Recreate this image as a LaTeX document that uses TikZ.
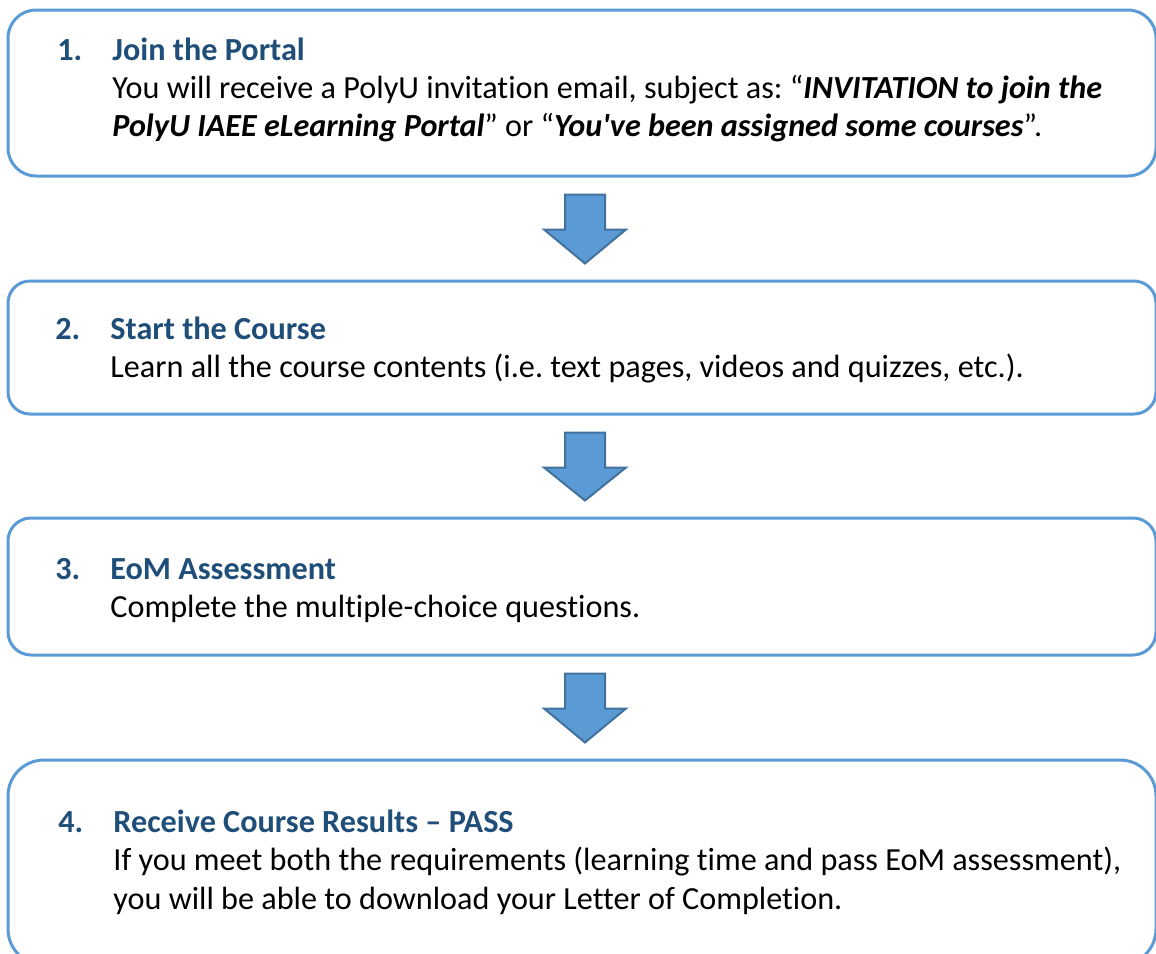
\documentclass[tikz,border=0pt]{standalone}
\usepackage{fontspec}
\setmainfont{Carlito}[Ligatures={TeX,NoCommon}]
\usepackage{tikz}
\usetikzlibrary{calc}
\definecolor{boxblue}{HTML}{5B9BD5}
\definecolor{arrowline}{HTML}{41719C}
\definecolor{headblue}{HTML}{1F4E79}
\tikzset{stepbox/.style={draw=boxblue, line width=1.5pt, minimum width=574pt, inner sep=0pt}}
\tikzset{steptext/.style={anchor=base west, inner sep=0pt, font=\fontsize{16.1}{19.25}\selectfont}}
\tikzset{flowarrow/.style={draw=arrowline, fill=boxblue, line width=1pt, line join=miter}}
\newcommand{\stephead}[2]{\makebox[27.5pt][l]{\textbf{\color{headblue}#1}} & \textbf{\color{headblue}#2}}
\newcommand{\emtext}[1]{\textbf{\textit{#1}}}
\newcommand{\flowarrow}[2]{%
  \draw[flowarrow] ($(#1.south)+(-17,17)$) -- ($(#1.south)+(23,17)$)
    -- ($(#1.south)+(23,52)$) -- ($(#1.south)+(44,52)$)
    -- ($(#2.north)+(3,-16)$)
    -- ($(#1.south)+(-38,52)$) -- ($(#1.south)+(-17,52)$) -- cycle;}
\frenchspacing

\begin{document}
\begin{tikzpicture}[x=0.5pt,y=-0.5pt]
    \useasboundingbox (0,0) rectangle (1156,953);

    \node[stepbox, rounded corners=14pt, minimum height=83pt] (join) at (582,93) {};
    \node[stepbox, rounded corners=11pt, minimum height=66.5pt] (start) at (582,347.5) {};
    \node[stepbox, rounded corners=11.5pt, minimum height=68.5pt] (eom) at (582,586.5) {};
    \node[stepbox, rounded corners=18pt, minimum height=102.5pt] (result) at (582,862.5) {};

    \node[steptext] (jointext) at (57,60) {\begin{tabular}[t]{@{}l@{}l@{}}
        \stephead{1.}{Join the Portal}\\
        & You will receive a PolyU invitation email, subject as: ``\emtext{INVITATION to join the}\\
        & \emtext{PolyU IAEE eLearning Portal}'' or ``\emtext{You\textquotesingle ve been assigned some courses}''.
      \end{tabular}};
    \node[steptext] (starttext) at (55,339) {\begin{tabular}[t]{@{}l@{}l@{}}
        \stephead{2.}{Start the Course}\\
        & Learn all the course contents (i.e. text pages, videos and quizzes, etc.).
      \end{tabular}};
    \node[steptext] (eomtext) at (55,579) {\begin{tabular}[t]{@{}l@{}l@{}}
        \stephead{3.}{EoM Assessment}\\
        & Complete the multiple-choice questions.
      \end{tabular}};
    \node[steptext] (resulttext) at (58,832) {\begin{tabular}[t]{@{}l@{}l@{}}
        \stephead{4.}{Receive Course Results -- PASS}\\
        & If you meet both the requirements (learning time and pass EoM assessment),\\
        & you will be able to download your Letter of Completion.
      \end{tabular}};

    \flowarrow{join}{start}
    \flowarrow{start}{eom}
    \flowarrow{eom}{result}
\end{tikzpicture}
\end{document}
